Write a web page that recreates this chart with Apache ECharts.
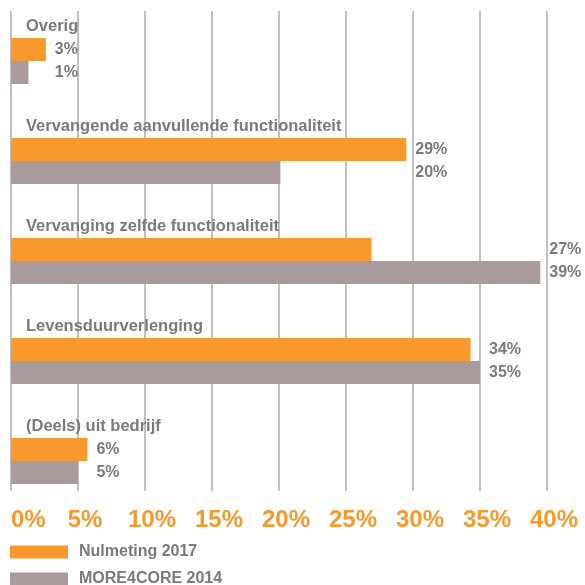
<!DOCTYPE html>
<html>
<head>
<meta charset="utf-8">
<script src="https://cdn.jsdelivr.net/npm/echarts@6/dist/echarts.min.js"></script>
<style>
  html, body { margin: 0; padding: 0; background: #fff; }
  #chart { width: 585px; height: 585px; }
</style>
</head>
<body>
<div id="chart"></div>
<script>
// categorieen van boven naar beneden
var categories = ['Overig', 'Vervangende aanvullende functionaliteit', 'Vervanging zelfde functionaliteit', 'Levensduurverlenging', '(Deels) uit bedrijf']
var seriesNames = ['Nulmeting 2017', 'MORE4CORE 2014']
var nulmeting = [2.6, 29.5, 26.9, 34.3, 5.7]
var more4core = [1.3, 20.1, 39.5, 35.0, 5.0]
// percentages zoals ze in de grafiek staan
var nulmetingLabels = ['3%', '29%', '27%', '34%', '6%']
var more4coreLabels = ['1%', '20%', '39%', '35%', '5%']
var ticks = ['0%', '5%', '10%', '15%', '20%', '25%', '30%', '35%', '40%']

var orange = '#f7992d'
var grey = '#a99a9c'
var textGrey = '#7a7a7d'
var font = 'Liberation Sans'

var myChart = echarts.init(document.getElementById('chart'))

function buildData (values, labels, ppu) {
  return values.map(function (v, i) {
    var max = Math.max(nulmeting[i], more4core[i])
    return {
      value: v,
      label: {
        formatter: labels[i],
        offset: [(max - v) * ppu, 0]
      }
    }
  })
}

function barSeries (name, values, labels, color, ppu) {
  return {
    name: name,
    type: 'bar',
    xAxisIndex: 0,
    yAxisIndex: 0,
    barWidth: 23,
    barGap: 0,
    itemStyle: { color: color },
    label: {
      show: true,
      position: 'right',
      distance: 9,
      color: textGrey,
      fontFamily: font,
      fontWeight: 'bold',
      fontSize: 16
    },
    data: buildData(values, labels, ppu)
  }
}

// één legenda per reeks, onder elkaar
function legendItem (name, top) {
  return {
    orient: 'horizontal',
    left: 10,
    top: top,
    padding: 0,
    icon: 'rect',
    itemWidth: 58,
    itemHeight: 13,
    data: [name],
    textStyle: {
      color: textGrey,
      fontFamily: font,
      fontWeight: 'bold',
      fontSize: 16,
      padding: [0, 0, 0, 6]
    }
  }
}

function draw (ppu) {
  var option = {
    animation: false,
    grid: [
      { left: 11, right: 38, top: 11, height: 500, outerBoundsMode: 'none' }, // balken
      { left: 11, right: 38, top: 11, height: 480, outerBoundsMode: 'none' } // rasterlijnen en as-labels
    ],
    legend: [
      legendItem(seriesNames[0], 544),
      legendItem(seriesNames[1], 571)
    ],
    xAxis: [{
      gridIndex: 0,
      type: 'value',
      min: 0,
      max: 40,
      show: false
    }, {
      gridIndex: 1,
      type: 'value',
      min: 0,
      max: 40,
      interval: 5,
      axisLine: { show: false },
      axisTick: { show: false },
      splitLine: {
        show: true,
        lineStyle: { color: '#c3bfc0', width: 2 }
      },
      axisLabel: {
        margin: 17,
        alignMinLabel: 'left',
        formatter: function (v) {
          var t = ticks[Math.round(v / 5)]
          return v === 0 ? '{first|' + t + '}' : '{n|' + t + '}'
        },
        rich: {
          first: {
            color: orange,
            fontFamily: font,
            fontWeight: 'bold',
            fontSize: 24
          },
          n: {
            color: orange,
            fontFamily: font,
            fontWeight: 'bold',
            fontSize: 24,
            padding: [0, 0, 0, 14]
          }
        }
      }
    }],
    yAxis: [{
      gridIndex: 0,
      type: 'category',
      inverse: true,
      data: categories,
      axisLine: { show: false },
      axisTick: { show: false },
      splitLine: { show: false },
      axisLabel: {
        inside: true,
        interval: 0,
        margin: 15,
        align: 'left',
        verticalAlign: 'middle',
        lineHeight: 70,
        formatter: function (v) {
          return v + '\n '
        },
        color: textGrey,
        fontFamily: font,
        fontWeight: 'bold',
        fontSize: 16.5
      },
      z: 5
    }, {
      gridIndex: 1,
      type: 'value',
      show: false
    }],
    series: [
      barSeries(seriesNames[0], nulmeting, nulmetingLabels, orange, ppu),
      barSeries(seriesNames[1], more4core, more4coreLabels, grey, ppu)
    ]
  }
  myChart.setOption(option, true)
}

// eerst tekenen, dan pixels per procent bepalen voor de labelpositie
draw(0)
var ppu = myChart.convertToPixel({ xAxisIndex: 0 }, 1) - myChart.convertToPixel({ xAxisIndex: 0 }, 0)
draw(ppu)
</script>
</body>
</html>
